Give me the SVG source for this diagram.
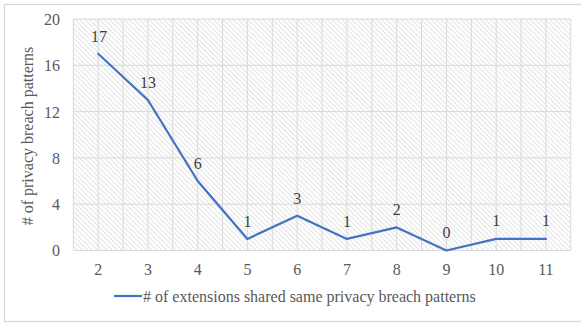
<svg xmlns="http://www.w3.org/2000/svg" width="581" height="325" viewBox="0 0 581 325">
<style>
text{font-family:"Liberation Serif","Times New Roman",serif;font-size:16px;fill:#595959}
.tick{text-anchor:end}
.xl{text-anchor:middle}
.dl{text-anchor:middle;fill:#404040}
.grid{stroke:#d9d9d9;stroke-width:1;fill:none}
.series{stroke:#4472c4;stroke-width:2.25;fill:none;stroke-linejoin:round;stroke-linecap:round}
</style>
<defs>
<pattern id="hatch" width="3.5" height="3.5" patternUnits="userSpaceOnUse" patternTransform="rotate(-45)">
<rect width="3.5" height="3.5" fill="#ffffff"/>
<line x1="0.5" y1="0" x2="0.5" y2="3.5" stroke="#e2e2e2" stroke-width="1"/>
</pattern>
</defs>
<rect x="0" y="0" width="581" height="325" fill="#ffffff"/>
<rect x="4.5" y="4.5" width="590" height="317" fill="#ffffff" stroke="#d9d9d9" stroke-width="1.3"/>
<g id="plot-area">
<rect x="73.3" y="19" width="497.5" height="231.5" fill="url(#hatch)"/>
<g class="grid">
<path d="M73.3 19H570.8M73.3 65.3H570.8M73.3 111.6H570.8M73.3 157.9H570.8M73.3 204.2H570.8M73.3 250.5H570.8"/>
<path d="M73.3 19V250.5M98.2 19V250.5M123.1 19V250.5M147.9 19V250.5M172.8 19V250.5M197.7 19V250.5M222.5 19V250.5M247.4 19V250.5M272.3 19V250.5M297.2 19V250.5M322 19V250.5M346.9 19V250.5M371.8 19V250.5M396.7 19V250.5M421.5 19V250.5M446.4 19V250.5M471.3 19V250.5M496.2 19V250.5M521 19V250.5M545.9 19V250.5M570.8 19V250.5"/>
</g>
</g>
<g id="y-axis">
<text class="tick" x="60" y="25">20</text>
<text class="tick" x="60" y="71.3">16</text>
<text class="tick" x="60" y="117.6">12</text>
<text class="tick" x="60" y="163.9">8</text>
<text class="tick" x="60" y="210.2">4</text>
<text class="tick" x="60" y="256.3">0</text>
<text x="33" y="136" text-anchor="middle" transform="rotate(-90 33 136)">#&#160;of privacy breach patterns</text>
</g>
<g id="x-axis">
<text class="xl" x="98.2" y="275">2</text>
<text class="xl" x="147.9" y="275">3</text>
<text class="xl" x="197.7" y="275">4</text>
<text class="xl" x="247.4" y="275">5</text>
<text class="xl" x="297.2" y="275">6</text>
<text class="xl" x="346.9" y="275">7</text>
<text class="xl" x="396.7" y="275">8</text>
<text class="xl" x="446.4" y="275">9</text>
<text class="xl" x="496.2" y="275">10</text>
<text class="xl" x="545.9" y="275">11</text>
</g>
<g id="connectors">
<polyline class="series" points="98.2,53.7 147.9,100 197.7,181 247.4,238.9 297.2,215.8 346.9,238.9 396.7,227.4 446.4,250.5 496.2,238.9 545.9,238.9"/>
</g>
<g id="data-labels">
<text class="dl" x="99" y="42">17</text>
<text class="dl" x="148" y="88">13</text>
<text class="dl" x="197.7" y="169">6</text>
<text class="dl" x="247.4" y="227">1</text>
<text class="dl" x="297.2" y="204">3</text>
<text class="dl" x="346.9" y="227">1</text>
<text class="dl" x="396.7" y="215.4">2</text>
<text class="dl" x="446.4" y="238.4">0</text>
<text class="dl" x="496.2" y="226.4">1</text>
<text class="dl" x="545.9" y="226.4">1</text>
</g>
<g id="legend">
<line x1="114" y1="296" x2="142" y2="296" stroke="#4472c4" stroke-width="2.25"/>
<text x="143" y="301.5">#&#160;of extensions shared same privacy breach patterns</text>
</g>
</svg>
